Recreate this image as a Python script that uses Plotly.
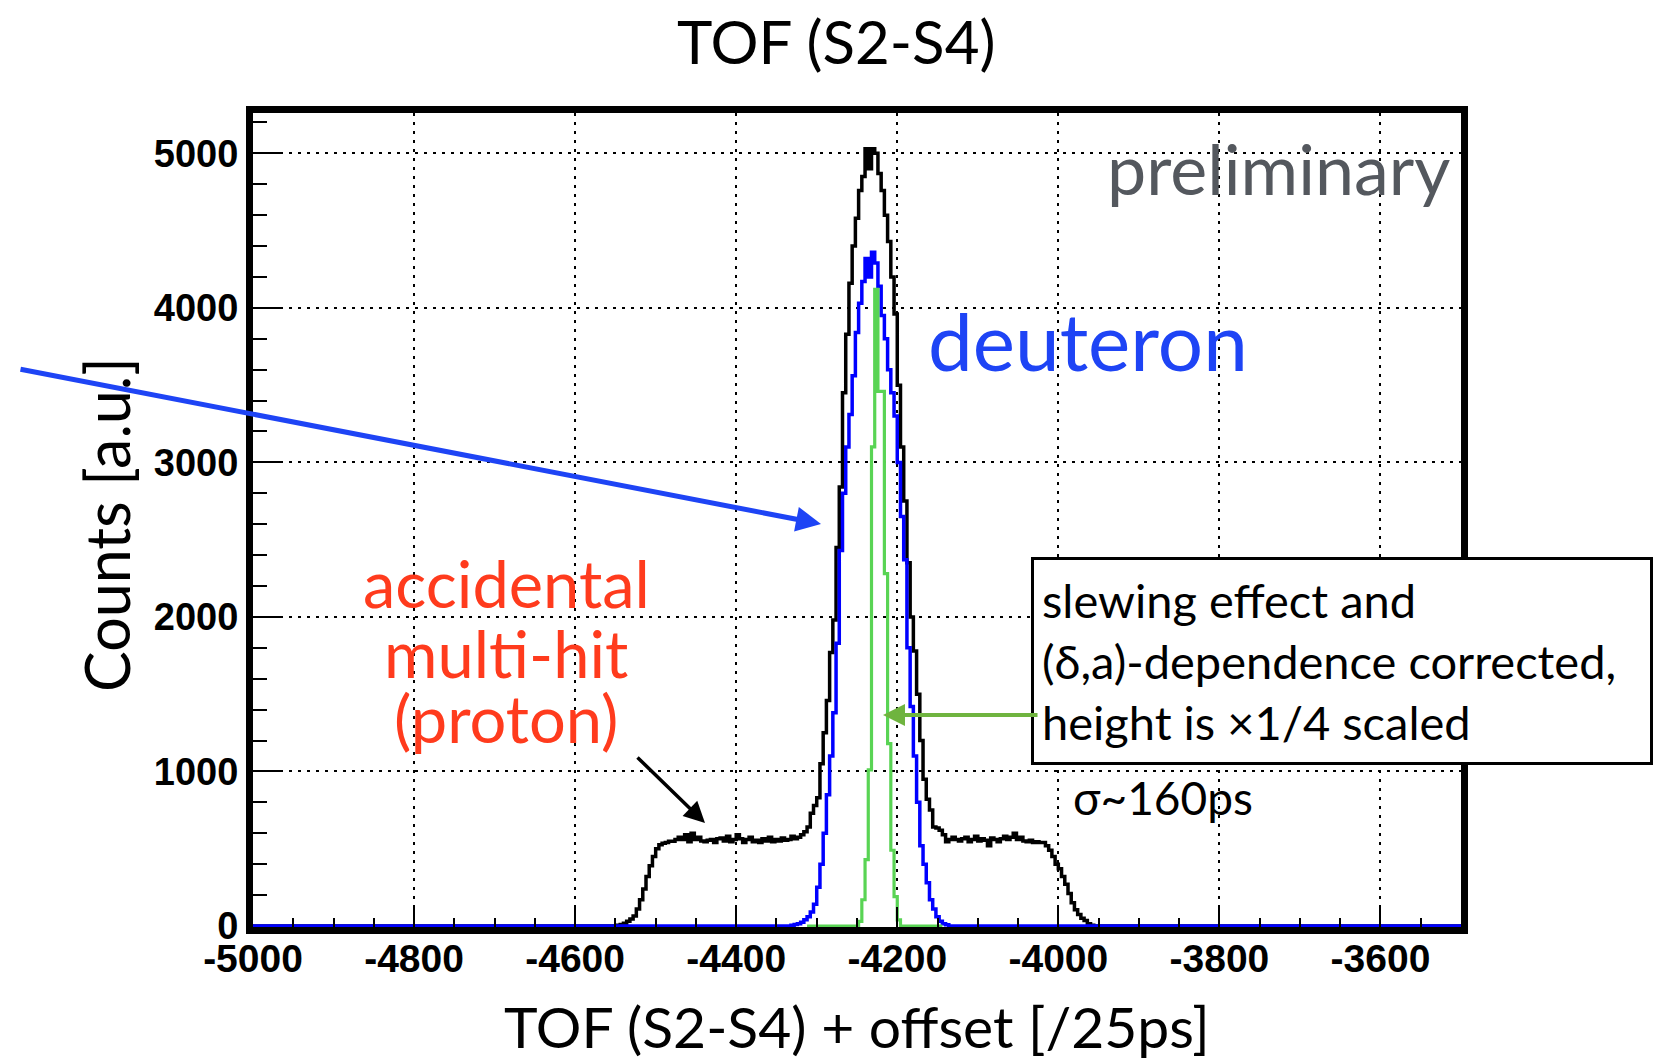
import plotly.graph_objects as go

# ---------------- data ----------------
BIN_WIDTH = 4
X_RANGE = [-5000, -3500]
Y_RANGE = [-6.5, 5261]

x_tickvals = [-5000, -4800, -4600, -4400, -4200, -4000, -3800, -3600]
y_tickvals = [0, 1000, 2000, 3000, 4000, 5000]

# all events (black)
black_start = -4548
black_counts = [
    5, 10, 18, 30, 45, 65, 110, 170, 240, 320, 390, 450, 500, 525, 535, 540,
    548, 548, 560, 575, 560, 590, 545, 600, 560, 575, 550, 545, 555, 560, 540, 565,
    570, 550, 580, 545, 560, 590, 565, 540, 560, 575, 545, 555, 540, 565, 550, 575,
    545, 560, 550, 570, 555, 560, 580, 565, 575, 590, 610, 640, 730, 780, 830, 1050,
    1250, 1460, 1770, 1980, 2450, 2840, 3450, 3830, 4160, 4400, 4580, 4760, 4850, 5030,
    4900, 5030, 5000, 4870, 4760, 4600, 4430, 4200, 3960, 3500, 3100, 2750, 2350, 2000,
    1780, 1500, 1200, 950, 820, 750, 640, 634, 620, 590, 545, 560, 575, 560, 550, 565,
    575, 545, 560, 580, 550, 565, 555, 520, 570, 560, 545, 565, 580, 560, 575, 600,
    560, 575, 550, 545, 555, 540, 545, 540, 540, 520, 490, 450, 400, 370, 320, 270,
    210, 150, 105, 75, 50, 35, 15, 5,
]

# deuteron gate (blue)
blue_start = -4332
blue_counts = [
    5, 10, 15, 25, 40, 60, 90, 140, 250, 400, 600, 850, 1100, 1380, 1830, 2430,
    2800, 3100, 3310, 3560, 3840, 4030, 4170, 4320, 4200, 4360, 4290, 4140, 3950, 3800,
    3600, 3450, 3300, 3000, 2650, 2370, 1800, 1420, 1100, 800, 520, 400, 280, 170,
    110, 60, 30, 15, 8,
]

# corrected, x1/4 scaled (green)
green_start = -4248
green_counts = [30, 170, 430, 1010, 3100, 4120, 3460, 3460, 2280, 1180, 490, 190, 40]
green_hist_range = [-4312, -4144]


def step_xy(start, counts, lo, hi):
    xs, ys = [lo], [0]
    for i, c in enumerate(counts):
        xs.append(start + i * BIN_WIDTH)
        ys.append(c)
    xs.append(start + len(counts) * BIN_WIDTH)
    ys.append(0)
    xs.append(hi)
    ys.append(0)
    return xs, ys


fig = go.Figure()
for (start, counts, lo, hi, color, w) in [
    (black_start, black_counts, X_RANGE[0], X_RANGE[1], "#000000", 3.5),
    (blue_start, blue_counts, X_RANGE[0], X_RANGE[1], "#0000ff", 3.5),
    (green_start, green_counts, green_hist_range[0], green_hist_range[1], "#59d454", 3.2),
]:
    xs, ys = step_xy(start, counts, lo, hi)
    fig.add_trace(go.Scatter(x=xs, y=ys, mode="lines", line=dict(color=color, width=w, shape="hv"),
                             showlegend=False, hoverinfo="skip"))

# ---------------- layout ----------------
W, H = 1654, 1064
L, R, T, B = 253, 1461, 113, 927


def px(xp):
    return (xp - L) / (R - L)


def py(yp):
    return (B - yp) / (B - T)


grid = dict(showgrid=True, gridcolor="black", gridwidth=2, griddash="3px,6px")

fig.update_layout(
    width=W, height=H, autosize=False,
    margin=dict(l=L, r=W - R, t=T, b=H - B, pad=0),
    paper_bgcolor="white", plot_bgcolor="white",
    xaxis=dict(range=X_RANGE, tickvals=x_tickvals, ticktext=[str(v) for v in x_tickvals],
               ticks="inside", ticklen=20, tickwidth=2, tickcolor="black",
               minor=dict(ticks="inside", ticklen=9, tickwidth=2, tickcolor="black", dtick=50, tick0=-5000, showgrid=False),
               showline=True, linewidth=7, linecolor="black", mirror=True, zeroline=False,
               ticklabelstandoff=-9,
               tickfont=dict(family="Liberation Sans", size=39, color="black", weight="bold"), **grid),
    yaxis=dict(range=Y_RANGE, tickvals=y_tickvals, ticktext=[str(v) for v in y_tickvals],
               ticks="inside", ticklen=30, tickwidth=2, tickcolor="black",
               minor=dict(ticks="inside", ticklen=14, tickwidth=2, tickcolor="black", dtick=200, tick0=0, showgrid=False),
               showline=True, linewidth=7, linecolor="black", mirror=True, zeroline=False,
               tickfont=dict(family="Liberation Sans", size=38, color="black", weight="bold"), **grid),
)

TXT = "Lato"
ann = []
# title and axis titles
ann.append(dict(text="TOF (S2-S4)", x=px(836), y=py(41), font=dict(family=TXT, size=60, color="black")))
ann.append(dict(text="TOF (S2-S4) + offset [/25ps]", x=px(857), y=py(1026), font=dict(family=TXT, size=57, color="black")))
ann.append(dict(text="Counts [a.u.]", x=px(106), y=py(525), textangle=-90, font=dict(family=TXT, size=61, color="black")))
# labels
ann.append(dict(text="preliminary", x=px(1278), y=py(168), font=dict(family=TXT, size=70, color="#54585e")))
ann.append(dict(text="deuteron", x=px(1088), y=py(340), font=dict(family=TXT, size=80, color="#1e44f5")))
for txt, yc in [("accidental", 583), ("multi-hit", 653), ("(proton)", 718)]:
    ann.append(dict(text=txt, x=px(506), y=py(yc), font=dict(family=TXT, size=65, color="#ff3b1d")))
ann.append(dict(text="σ~160ps", x=px(1163), y=py(797), font=dict(family=TXT, size=46, color="black")))
ann.append(dict(text="slewing effect and<br>(δ,a)-dependence corrected,<br>height is ×1/4 scaled",
                x=px(1031), y=py(557), xanchor="left", yanchor="top", align="left",
                width=600, height=186, borderpad=8, borderwidth=3, bordercolor="black", bgcolor="white",
                font=dict(family=TXT, size=47, color="black")))
for a in ann:
    a.setdefault("xanchor", "center")
    a.setdefault("yanchor", "middle")
    a.update(xref="paper", yref="paper", showarrow=False)

# arrows
arrows = [
    dict(tip=(821, 524), tail=(19, 369), color="#1e44f5", width=5, size=1.0),
    dict(tip=(705, 823), tail=(636, 756), color="#000000", width=3.5, size=1.2),
    dict(tip=(883, 715), tail=(1039, 715), color="#6fb43f", width=4, size=1.1),
]
for a in arrows:
    ann.append(dict(text="", x=px(a["tip"][0]), y=py(a["tip"][1]), xref="paper", yref="paper",
                    showarrow=True, ax=a["tail"][0] - a["tip"][0], ay=a["tail"][1] - a["tip"][1],
                    arrowhead=2, arrowsize=a["size"], arrowwidth=a["width"], arrowcolor=a["color"]))

fig.update_layout(annotations=ann)
fig.write_html("out.html")
